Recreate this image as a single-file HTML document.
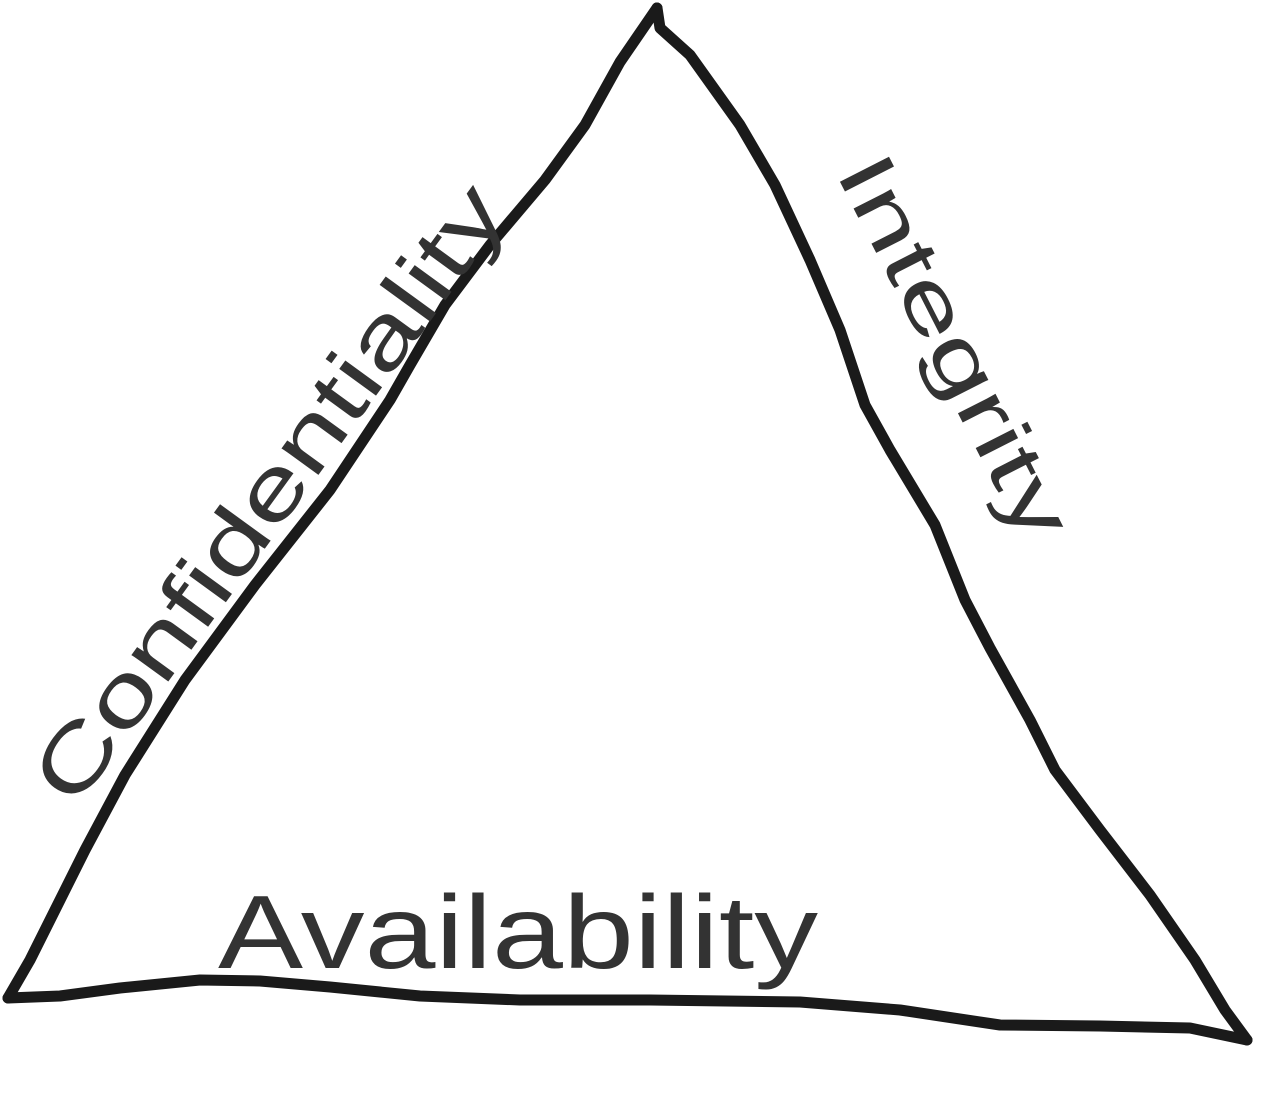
<!DOCTYPE html>
<html>
<head>
<meta charset="utf-8">
<style>
  html,body{margin:0;padding:0;background:#fff;}
  svg{display:block;}
  text{font-family:"Liberation Sans",sans-serif;fill:#333;}
</style>
</head>
<body>
<svg width="1274" height="1100" viewBox="0 0 1274 1100">
  <path fill="none" stroke="#1a1a1a" stroke-width="11" stroke-linecap="round" stroke-linejoin="round"
    d="M657,8 L620,62 L585,125 L545,180 L490,245 L445,305 L410,365 L390,400 L330,490 L255,585 L185,680 L125,775 L85,850 L55,910 L30,960 L8,998"/>
  <path fill="none" stroke="#1a1a1a" stroke-width="11" stroke-linecap="round" stroke-linejoin="round"
    d="M657,8 L660,28 L690,55 L740,125 L775,185 L810,260 L840,330 L865,405 L890,450 L935,525 L965,600 L990,648 L1030,720 L1055,770 L1100,830 L1150,895 L1195,960 L1225,1010 L1247,1040"/>
  <path fill="none" stroke="#1a1a1a" stroke-width="11" stroke-linecap="round" stroke-linejoin="round"
    d="M8,998 L60,996 L120,988 L200,980 L260,981 L330,987 L420,996 L520,1000 L650,1000 L800,1002 L900,1010 L1000,1025 L1100,1026 L1190,1028 L1247,1040"/>
  <text font-size="86" textLength="740" lengthAdjust="spacingAndGlyphs"
    transform="translate(75,810) rotate(-54)">Confidentiality</text>
  <text font-size="80" textLength="420" lengthAdjust="spacingAndGlyphs"
    transform="translate(835,172) rotate(63)">Integrity</text>
  <text font-size="104" textLength="600" lengthAdjust="spacingAndGlyphs"
    x="218" y="968">Availability</text>
</svg>
</body>
</html>
